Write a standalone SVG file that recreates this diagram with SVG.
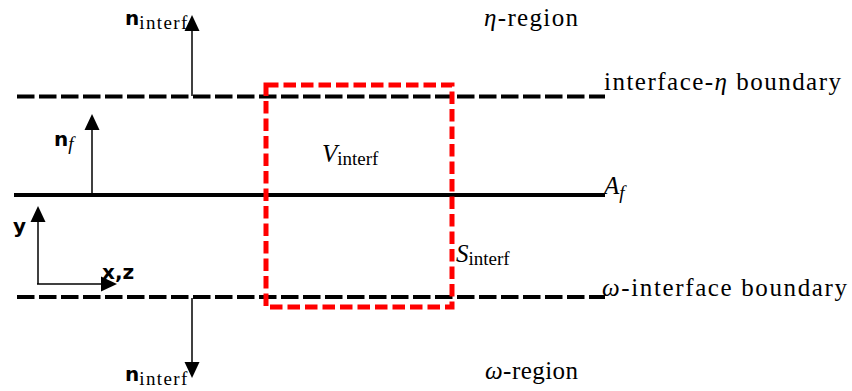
<svg xmlns="http://www.w3.org/2000/svg" width="852" height="391" viewBox="0 0 852 391">
<defs>
<style>
.dash{stroke:#000;stroke-width:4;stroke-dasharray:17.5 4.5;fill:none}
.solid{stroke:#000;stroke-width:4;fill:none}
.arr{stroke:#000;stroke-width:1.5;fill:none}
.red{stroke:#f00;stroke-width:5;stroke-dasharray:12.5 5;fill:none}
.serif{font-family:"Liberation Serif","DejaVu Serif",serif;font-size:25px;fill:#000}
.it{font-style:italic}
.sub{font-size:19px}
.sans{font-family:"DejaVu Sans","Liberation Sans",sans-serif;font-weight:bold;font-size:20px;fill:#000}
.subn{font-family:"Liberation Serif","DejaVu Serif",serif;font-weight:normal;font-size:19px}
</style>
</defs>
<rect width="852" height="391" fill="#fff"/>
<g id="lines">
<line class="dash" x1="17" y1="96.5" x2="605" y2="96.5"/>
<line class="solid" x1="14" y1="195" x2="605" y2="195"/>
<line class="dash" x1="17" y1="297" x2="605" y2="297"/>
</g>
<g id="control-volume">
<rect class="red" x="266" y="85" width="186" height="222"/>
</g>
<g id="connectors">
<line class="arr" x1="192" y1="96" x2="192" y2="29"/>
<polygon points="192,15 184.5,31 199.5,31" fill="#000"/>
<line class="arr" x1="92" y1="194" x2="92" y2="127"/>
<polygon points="92,114 84.5,130 99.5,130" fill="#000"/>
<line class="arr" x1="38" y1="284" x2="38" y2="219"/>
<polygon points="38,206 30.5,222 45.5,222" fill="#000"/>
<line class="arr" x1="37" y1="284" x2="103" y2="284"/>
<polygon points="117,284 101,276.5 101,291.5" fill="#000"/>
<line class="arr" x1="192" y1="298" x2="192" y2="363"/>
<polygon points="192,378 184.5,362 199.5,362" fill="#000"/>
</g>
<g id="labels">
<text class="sans" x="125" y="25">n<tspan class="subn" dy="4" textLength="48">interf</tspan></text>
<text class="sans" x="54" y="146">n<tspan class="subn it" dy="4">f</tspan></text>
<text class="sans" x="13" y="233">y</text>
<text class="sans" x="102" y="279">x,z</text>
<text class="sans" x="125" y="381">n<tspan class="subn" dy="4" textLength="48">interf</tspan></text>
<text class="serif" x="484" y="26" textLength="94"><tspan class="it">η</tspan>-region</text>
<text class="serif" x="604" y="90" textLength="237"><tspan>interface-</tspan><tspan class="it">η</tspan><tspan> boundary</tspan></text>
<text class="serif" x="604" y="194"><tspan class="it">A</tspan><tspan class="sub it" dy="5">f</tspan></text>
<text class="serif" x="322" y="162"><tspan class="it">V</tspan><tspan class="sub" dy="3">interf</tspan></text>
<text class="serif" x="456" y="262"><tspan class="it">S</tspan><tspan class="sub" dy="3">interf</tspan></text>
<text class="serif" x="602" y="296" textLength="245"><tspan class="it">ω</tspan>-interface boundary</text>
<text class="serif" x="485" y="379" textLength="93"><tspan class="it">ω</tspan>-region</text>
</g>
</svg>
